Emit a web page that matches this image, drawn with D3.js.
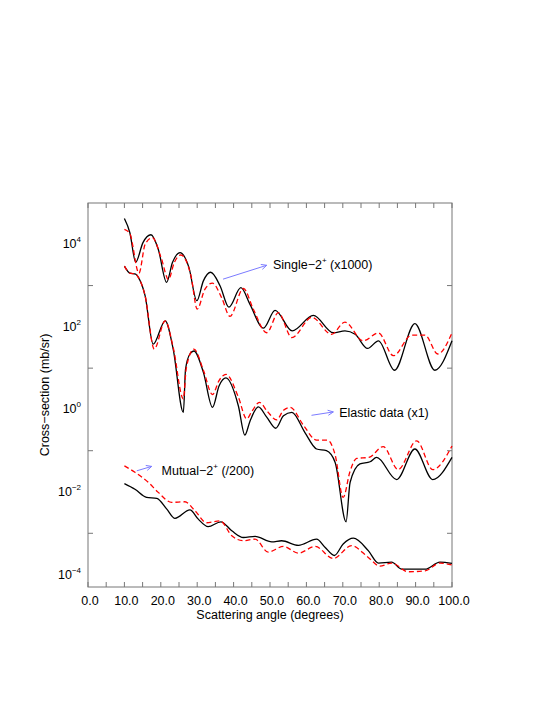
<!DOCTYPE html>
<html>
<head>
<meta charset="utf-8">
<script src="https://cdn.jsdelivr.net/npm/d3@7"></script>
<style>
  body { margin: 0; background: #fff; }
  text { font-family: "Liberation Sans", Arial, sans-serif; }
</style>
</head>
<body>
<div id="chart"></div>
<script>
// [angle (deg), cross-section (mb/sr)]
const singleCalc = [
  [10.0, 4.2e4], [11.5, 1.9e4], [13.1, 3.7e3], [15.1, 1.1e4], [17.3, 1.7e4],
  [19.3, 7.6e3], [21.6, 1.2e3], [23.2, 3.6e3], [25.3, 6.3e3], [27.7, 2.8e3],
  [29.9, 430], [31.7, 1.3e3], [33.7, 2.1e3], [36.3, 980], [38.7, 300],
  [42.0, 890], [44.5, 350], [48.2, 93], [51.4, 250], [56.1, 80],
  [61.9, 190], [67.4, 72], [70.6, 80], [73.4, 66], [76.8, 30],
  [79.8, 46], [84.2, 8.9], [89.8, 120], [95.3, 8.9], [100.0, 46]
];
const singleAlt = [
  [10.0, 2.3e4], [11.5, 1.8e4], [14.0, 2.0e3], [15.7, 1.0e4], [17.7, 1.45e4],
  [20.2, 4.4e3], [22.1, 1.4e3], [23.7, 3.6e3], [25.5, 5.5e3], [28.3, 1.7e3],
  [30.0, 270], [32.1, 810], [34.2, 1.15e3], [36.7, 510], [39.0, 180],
  [42.7, 850], [45.4, 270], [49.1, 72], [52.3, 220], [56.0, 55],
  [61.5, 170], [66.9, 66], [70.6, 130], [75.6, 46], [79.8, 71],
  [83.9, 20], [88.9, 63], [92.6, 63], [96.1, 22], [100.0, 72]
];
const elasticCalc = [
  [10.0, 2.95e3], [11.5, 2.0e3], [13.1, 1.9e3], [13.8, 1.6e3], [15.7, 560],
  [17.9, 38], [21.2, 140], [23.4, 29], [26.2, 0.85], [26.8, 9.5],
  [28.0, 22], [29.1, 26], [31.7, 7.9], [34.2, 1.12], [36.0, 3.7],
  [37.9, 5.8], [41.3, 1.23], [43.1, 0.24], [44.5, 0.52], [46.8, 1.15],
  [49.1, 0.65], [51.6, 0.35], [53.7, 0.70], [56.0, 0.85], [59.6, 0.275],
  [62.8, 0.11], [65.5, 0.10], [67.9, 0.052], [70.9, 1.9e-3], [72.0, 0.017],
  [74.7, 0.048], [77.5, 0.054], [79.3, 0.069], [84.8, 0.020], [89.8, 0.11],
  [94.7, 0.020], [100.0, 0.069]
];
const elasticAlt = [
  [10.0, 2.95e3], [11.5, 2.0e3], [13.1, 1.9e3], [13.8, 1.6e3], [15.7, 560],
  [18.2, 29], [21.2, 140], [23.4, 32], [26.2, 1.8], [27.0, 10],
  [29.1, 29], [31.7, 8.9], [34.2, 2.3], [36.0, 5.0], [37.9, 7.1],
  [41.3, 2.0], [43.6, 0.59], [45.0, 0.89], [47.1, 1.48], [49.3, 0.89],
  [51.8, 0.56], [53.7, 0.95], [55.5, 1.12], [59.3, 0.40], [62.8, 0.18],
  [65.8, 0.18], [67.9, 0.079], [70.1, 7.4e-3], [72.0, 0.032], [73.8, 0.065],
  [77.2, 0.069], [81.1, 0.126], [85.2, 0.035], [90.3, 0.174], [94.7, 0.035],
  [100.0, 0.13]
];
const mutualCalc = [
  [10.0, 0.016], [12.9, 0.0117], [16.1, 7.4e-3], [18.9, 7.0e-3], [21.6, 3.9e-3],
  [23.9, 2.3e-3], [28.0, 3.7e-3], [30.3, 2.2e-3], [33.0, 1.45e-3], [36.5, 1.9e-3],
  [39.5, 1.15e-3], [42.7, 7.9e-4], [45.9, 8.4e-4], [50.5, 6.2e-4], [53.2, 6.6e-4],
  [57.8, 5.1e-4], [62.8, 7.2e-4], [65.1, 4.6e-4], [67.7, 2.9e-4], [70.1, 5.5e-4],
  [72.9, 7.6e-4], [77.0, 3.8e-4], [79.8, 1.9e-4], [83.4, 2.0e-4], [86.2, 1.35e-4],
  [92.6, 1.35e-4], [96.7, 2.0e-4], [100.0, 1.86e-4]
];
const mutualAlt = [
  [10.0, 0.043], [12.9, 0.030], [16.6, 0.017], [19.3, 9.8e-3], [23.0, 5.6e-3],
  [26.6, 5.8e-3], [29.4, 3.5e-3], [32.6, 1.8e-3], [36.3, 2.0e-3], [39.5, 8.7e-4],
  [42.7, 6.6e-4], [45.9, 7.2e-4], [49.5, 3.5e-4], [53.7, 4.8e-4], [57.8, 3.3e-4],
  [62.4, 4.8e-4], [67.4, 2.45e-4], [72.4, 5.0e-4], [77.0, 2.6e-4], [80.2, 1.6e-4],
  [83.4, 1.9e-4], [88.0, 1.17e-4], [92.6, 1.23e-4], [96.7, 1.9e-4], [100.0, 1.7e-4]
];

const xTicks = [0, 10, 20, 30, 40, 50, 60, 70, 80, 90, 100];
const xMinorTicks = [5, 15, 25, 35, 45, 55, 65, 75, 85, 95];
const yLabelExps = [4, 2, 0, -2, -4];
const yTickExps = [3, 1, -1, -3];

// annotations: arrow [from angle, from value, to angle, to value], label anchor [angle, value]
const notes = [
  { name: "Single\u22122", sup: "+", tail: " (x1000)", arrow: [37.1, 1.43e3, 49.1, 3.1e3], at: [50.8, 3.3e3] },
  { name: "Elastic data (x1)", sup: "", tail: "", arrow: [61.4, 0.72, 67.4, 0.87], at: [69.0, 0.84] },
  { name: "Mutual\u22122", sup: "+", tail: " (/200)", arrow: [13.4, 0.0326, 17.5, 0.0417], at: [20.2, 0.034] }
];

const width = 545, height = 705;
const margin = { left: 88, right: 93, top: 203, bottom: 118 };

const svg = d3.select("#chart")
  .append("svg")
  .attr("width", width)
  .attr("height", height);

const x = d3.scaleLinear()
  .domain([0, 100])
  .range([margin.left, width - margin.right]);

const y = d3.scaleLog()
  .domain([5e-5, 1e5])
  .range([height - margin.bottom, margin.top]);

const frameColor = "#777";

// ticks
const tickLen = 5;
xTicks.concat(xMinorTicks).forEach(function (t) {
  svg.append("line")
    .attr("x1", x(t)).attr("x2", x(t))
    .attr("y1", y.range()[0]).attr("y2", y.range()[0] - tickLen)
    .attr("stroke", frameColor);
  svg.append("line")
    .attr("x1", x(t)).attr("x2", x(t))
    .attr("y1", y.range()[1]).attr("y2", y.range()[1] + tickLen)
    .attr("stroke", frameColor);
});
yTickExps.forEach(function (e) {
  let yy = y(Math.pow(10, e));
  svg.append("line")
    .attr("x1", x.range()[0]).attr("x2", x.range()[0] + tickLen)
    .attr("y1", yy).attr("y2", yy)
    .attr("stroke", frameColor);
  svg.append("line")
    .attr("x1", x.range()[1]).attr("x2", x.range()[1] - tickLen)
    .attr("y1", yy).attr("y2", yy)
    .attr("stroke", frameColor);
});

// frame
svg.append("rect")
  .attr("x", x.range()[0])
  .attr("y", y.range()[1])
  .attr("width", x.range()[1] - x.range()[0])
  .attr("height", y.range()[0] - y.range()[1])
  .attr("fill", "none")
  .attr("stroke", frameColor);

// x tick labels
svg.selectAll(".xlab")
  .data(xTicks)
  .enter()
  .append("text")
  .attr("class", "xlab")
  .attr("x", function (d) { return x(d) + 2; })
  .attr("y", y.range()[0] + 18)
  .attr("text-anchor", "middle")
  .attr("font-size", 12.5)
  .text(function (d) { return d.toFixed(1); });

// y tick labels
yLabelExps.forEach(function (e) {
  let t = svg.append("text")
    .attr("x", x.range()[0] - 7)
    .attr("y", y(Math.pow(10, e)) + 4)
    .attr("text-anchor", "end")
    .attr("font-size", 12.5);
  t.append("tspan").text("10");
  t.append("tspan")
    .attr("dy", -6)
    .attr("font-size", 8)
    .text(e < 0 ? "\u2212" + (-e) : String(e));
});

// axis titles
svg.append("text")
  .attr("x", (x.range()[0] + x.range()[1]) / 2)
  .attr("y", y.range()[0] + 32)
  .attr("text-anchor", "middle")
  .attr("font-size", 12.5)
  .text("Scattering angle (degrees)");

svg.append("text")
  .attr("transform", "translate(49," + ((y.range()[0] + y.range()[1]) / 2) + ") rotate(-90)")
  .attr("text-anchor", "middle")
  .attr("font-size", 12.5)
  .text("Cross\u2212section (mb/sr)");

// curves
const line = d3.line()
  .x(function (d) { return x(d[0]); })
  .y(function (d) { return y(d[1]); })
  .curve(d3.curveMonotoneX);

[singleCalc, elasticCalc, mutualCalc].forEach(function (s) {
  svg.append("path")
    .attr("d", line(s))
    .attr("fill", "none")
    .attr("stroke", "#000")
    .attr("stroke-width", 1.3);
});
[singleAlt, elasticAlt, mutualAlt].forEach(function (s) {
  svg.append("path")
    .attr("d", line(s))
    .attr("fill", "none")
    .attr("stroke", "#ff0000")
    .attr("stroke-width", 1.3)
    .attr("stroke-dasharray", "5,3");
});

// annotation arrows and labels
notes.forEach(function (n) {
  let x1 = x(n.arrow[0]), y1 = y(n.arrow[1]);
  let x2 = x(n.arrow[2]), y2 = y(n.arrow[3]);
  let ang = Math.atan2(y2 - y1, x2 - x1);
  svg.append("line")
    .attr("x1", x1).attr("y1", y1)
    .attr("x2", x2).attr("y2", y2)
    .attr("stroke", "#7b7bff")
    .attr("stroke-width", 1);
  let head = [ang + 2.7, ang - 2.7].map(function (a) {
    return [x2 + 6 * Math.cos(a), y2 + 6 * Math.sin(a)];
  });
  svg.append("path")
    .attr("d", "M" + head[0] + "L" + x2 + "," + y2 + "L" + head[1])
    .attr("fill", "none")
    .attr("stroke", "#7b7bff")
    .attr("stroke-width", 1);

  let t = svg.append("text")
    .attr("x", x(n.at[0]))
    .attr("y", y(n.at[1]) + 4.5)
    .attr("font-size", 12.5);
  t.append("tspan").text(n.name);
  if (n.sup) {
    t.append("tspan").attr("dy", -6).attr("font-size", 8).text(n.sup);
    t.append("tspan").attr("dy", 6).text(n.tail);
  }
});
</script>
</body>
</html>
